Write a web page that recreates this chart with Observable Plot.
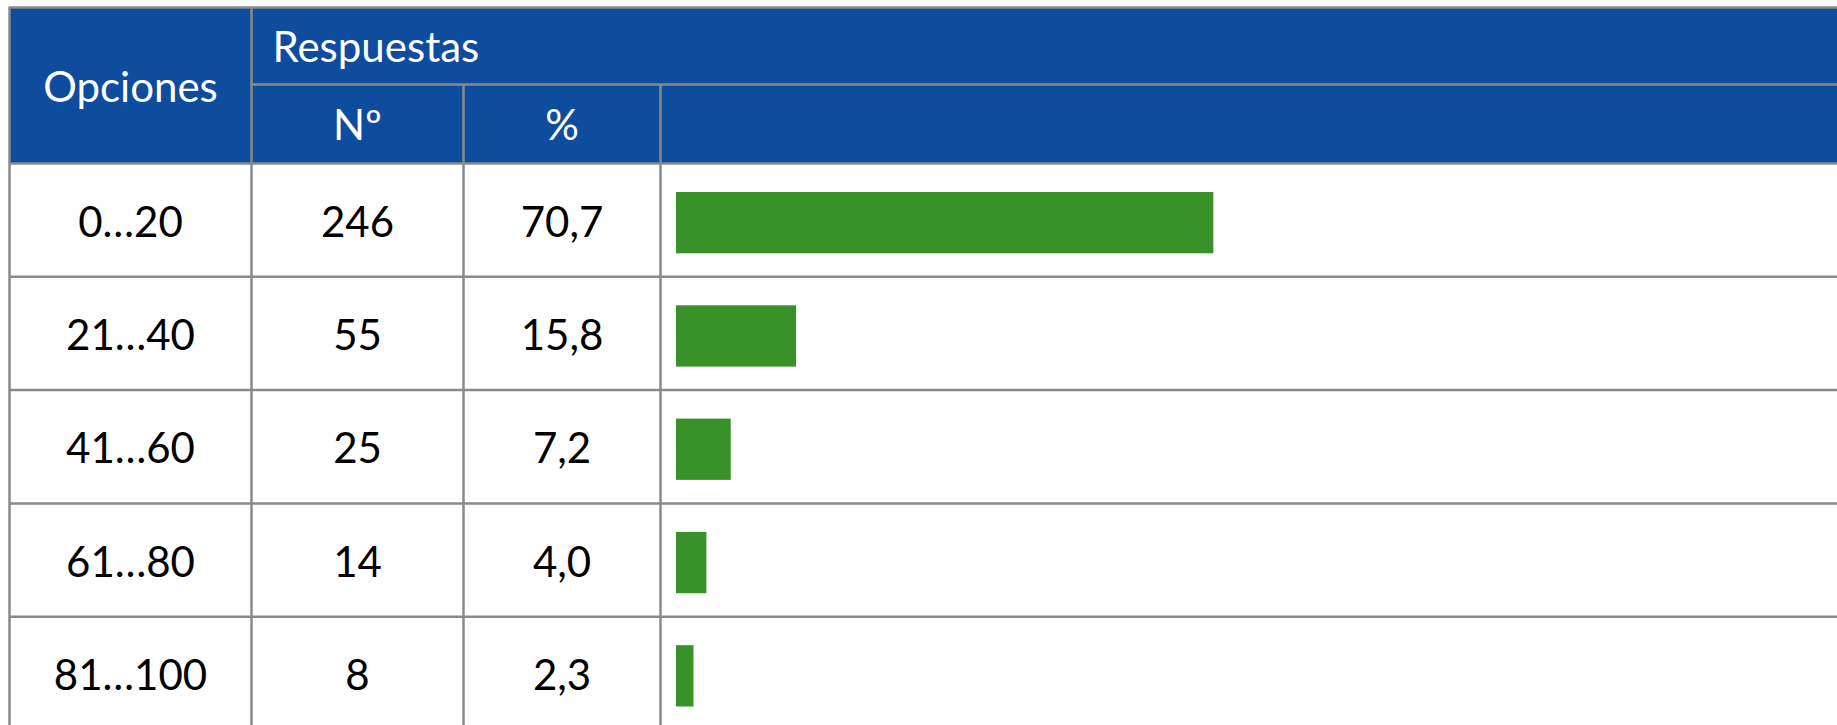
<!DOCTYPE html>
<html><head><meta charset="utf-8">
<script src="https://cdn.jsdelivr.net/npm/d3@7"></script>
<script src="https://cdn.jsdelivr.net/npm/@observablehq/plot@0.6"></script>
<style>html,body{margin:0;padding:0;background:#fff;overflow:hidden;}</style>
</head><body><div id="chart"></div>
<script>
// ---- data ----
const categories = ["0…20", "21…40", "41…60", "61…80", "81…100"];
const counts = [246, 55, 25, 14, 8];
const percents = [70.7, 15.8, 7.2, 4.0, 2.3];
const headerOptions = "Opciones";
const headerGroup = "Respuestas";
const headerCount = "Nº";
const headerPercent = "%";

// ---- layout (pixels) ----
const W = 1837, H = 725;
const tableTop = 7, headerMid = 84, headerBottom = 163, rowH = 113.3;
const colLeft = 9, col2 = 251, col3 = 463, col4 = 660, farRight = 1860, farBottom = 760;
const barStart = 676, pxPerPct = 7.6;
const X = px => (px - barStart) / pxPerPct;   // pixel -> x units (percent)
const Y = px => (px - headerBottom) / rowH;   // pixel -> y units (rows)

const blue = "#0e4c9d", grid = "#8a8a8a", green = "#389129";
const fs = 42;

const rows = categories.map((c, i) => ({
  i, cat: c, n: counts[i], pct: percents[i],
  pctLabel: percents[i].toFixed(1).replace(".", ",")
}));

const hLines = [
  {y: tableTop, x1: colLeft, x2: farRight},
  {y: headerMid, x1: col2, x2: farRight},
  ...d3.range(categories.length + 1).map(k => ({y: headerBottom + k * rowH, x1: colLeft, x2: farRight}))
];
const vLines = [
  {x: colLeft, y1: tableTop, y2: farBottom},
  {x: col2, y1: tableTop, y2: farBottom},
  {x: col3, y1: headerMid, y2: farBottom},
  {x: col4, y1: headerMid, y2: farBottom}
];

const txt = {fontSize: fs, dy: 3, fontFamily: "Lato"};

const chart = Plot.plot({
  width: W, height: H,
  margin: 0,
  style: {fontFamily: "Lato", background: "#fff"},
  x: {type: "linear", domain: [0, 100], range: [barStart, barStart + 100 * pxPerPct], axis: null},
  y: {type: "linear", domain: [0, categories.length], range: [headerBottom, headerBottom + categories.length * rowH], axis: null},
  marks: [
    // header background
    Plot.rect([0], {x1: X(colLeft), x2: X(farRight), y1: Y(tableTop), y2: Y(headerBottom), fill: blue}),
    // bars
    Plot.rect(rows, {x1: 0, x2: "pct", y1: "i", y2: d => d.i + 1, insetTop: 29, insetBottom: 23, fill: green}),
    // grid
    Plot.ruleY(hLines, {y: d => Y(d.y), x1: d => X(d.x1), x2: d => X(d.x2), stroke: grid, strokeWidth: 2.5}),
    Plot.ruleX(vLines, {x: d => X(d.x), y1: d => Y(d.y1), y2: d => Y(d.y2), stroke: grid, strokeWidth: 2.5}),
    // header text
    Plot.text([headerOptions], {...txt, x: X((colLeft + col2) / 2), y: Y((tableTop + headerBottom) / 2), text: d => d, fill: "#fff"}),
    Plot.text([headerGroup], {...txt, x: X(272), y: Y((tableTop + headerMid) / 2), text: d => d, fill: "#fff", textAnchor: "start"}),
    Plot.text([headerCount], {...txt, x: X((col2 + col3) / 2), y: Y((headerMid + headerBottom) / 2), text: d => d, fill: "#fff"}),
    Plot.text([headerPercent], {...txt, x: X((col3 + col4) / 2), y: Y((headerMid + headerBottom) / 2), text: d => d, fill: "#fff"}),
    // body text
    Plot.text(rows, {...txt, x: X((colLeft + col2) / 2), y: d => d.i + 0.5, text: "cat", fill: "#000"}),
    Plot.text(rows, {...txt, x: X((col2 + col3) / 2), y: d => d.i + 0.5, text: d => String(d.n), fill: "#000"}),
    Plot.text(rows, {...txt, x: X((col3 + col4) / 2), y: d => d.i + 0.5, text: "pctLabel", fill: "#000"})
  ]
});
document.getElementById("chart").appendChild(chart);
</script>
</body></html>
